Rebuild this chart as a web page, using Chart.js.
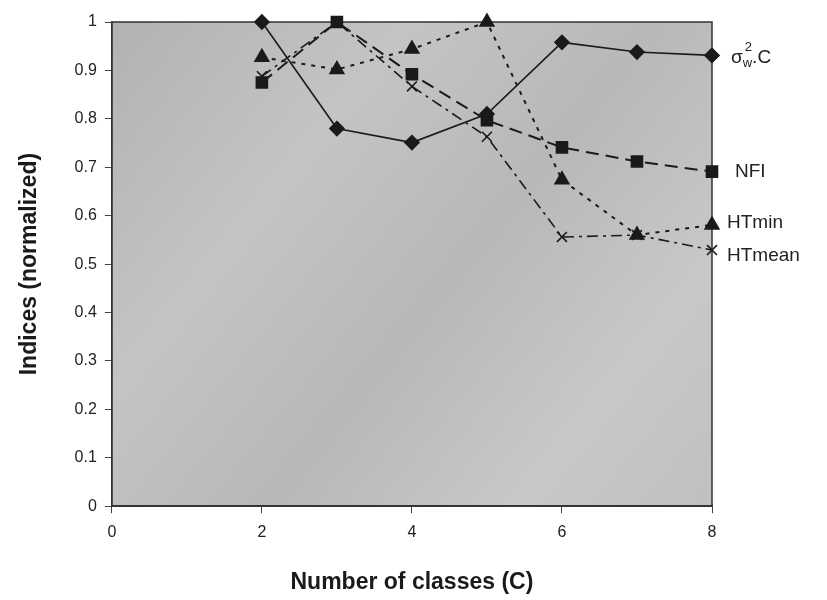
<!DOCTYPE html>
<html>
<head>
<meta charset="utf-8">
<script src="https://cdn.jsdelivr.net/npm/chart.js@4.4.1/dist/chart.umd.min.js"></script>
<style>
  html, body { margin: 0; padding: 0; background: #fff; }
  #wrap { width: 827px; height: 600px; }
</style>
</head>
<body>
<div id="wrap"><canvas id="grafico"></canvas></div>
<script>
const classes = [2, 3, 4, 5, 6, 7, 8];
const sigmaC = [1.0, 0.78, 0.751, 0.81, 0.958, 0.938, 0.931];
const nfi = [0.875, 1.0, 0.892, 0.797, 0.741, 0.712, 0.691];
const htMin = [0.927, 0.902, 0.944, 1.0, 0.674, 0.56, 0.581];
const htMean = [0.888, 1.0, 0.867, 0.763, 0.556, 0.56, 0.529];
const xTicks = [0, 2, 4, 6, 8];
const serieNames = ['σw².C', 'NFI', 'HTmin', 'HTmean'];

function pontos(valores) {
  return classes.map((c, i) => ({ x: c, y: valores[i] }));
}

const fonte = '"Liberation Sans", Arial, sans-serif';

const fundoPlugin = {
  id: 'fundo',
  beforeDraw(chart) {
    const { ctx, chartArea: a } = chart;
    const g = ctx.createLinearGradient(a.left, a.top, a.right, a.bottom);
    g.addColorStop(0, '#b2b2b2');
    g.addColorStop(0.3, '#c4c4c4');
    g.addColorStop(0.55, '#b8b8b8');
    g.addColorStop(0.8, '#c8c8c8');
    g.addColorStop(1, '#c0c0c0');
    ctx.save();
    ctx.fillStyle = g;
    ctx.fillRect(a.left, a.top, a.right - a.left, a.bottom - a.top);
    ctx.strokeStyle = '#333';
    ctx.lineWidth = 1.5;
    ctx.strokeRect(a.left, a.top, a.right - a.left, a.bottom - a.top);
    ctx.restore();
  },
  afterDatasetsDraw(chart) {
    const { ctx, chartArea: a } = chart;
    ctx.save();
    // rótulos das séries à direita
    const y = chart.scales.y;
    ctx.fillStyle = '#222';
    ctx.textBaseline = 'middle';
    const ult = [sigmaC, nfi, htMin, htMean].map(s => s.at(-1));
    const offX = [19, 23, 15, 15];
    const offY = [2, 0, -2, 6];
    ult.forEach((v, i) => {
      const py = y.getPixelForValue(v) + offY[i];
      const px = a.right + offX[i];
      ctx.font = '19px ' + fonte;
      if (i === 0) {
        ctx.fillText('σ', px, py);
        const w1 = ctx.measureText('σ').width;
        ctx.font = '13px ' + fonte;
        ctx.fillText('w', px + w1, py + 6);
        const w2 = ctx.measureText('w').width;
        ctx.fillText('2', px + w1 + 2, py - 10);
        ctx.font = '19px ' + fonte;
        ctx.fillText('.C', px + w1 + w2, py);
      } else {
        ctx.fillText(serieNames[i], px, py);
      }
    });
    ctx.restore();
  }
};

new Chart(document.getElementById('grafico'), {
  type: 'line',
  data: {
    datasets: [
      {
        label: serieNames[0], data: pontos(sigmaC), clip: false,
        borderColor: '#1a1a1a', backgroundColor: '#1a1a1a', borderWidth: 1.6,
        pointStyle: 'rectRot', pointRadius: 7
      },
      {
        label: serieNames[1], data: pontos(nfi), clip: false,
        borderColor: '#1a1a1a', backgroundColor: '#1a1a1a', borderWidth: 2,
        borderDash: [13, 7], pointStyle: 'rect', pointRadius: 7.5
      },
      {
        label: serieNames[2], data: pontos(htMin), clip: false,
        borderColor: '#1a1a1a', backgroundColor: '#1a1a1a', borderWidth: 2,
        borderDash: [4, 6], pointStyle: 'triangle', pointRadius: 7.5
      },
      {
        label: serieNames[3], data: pontos(htMean), clip: false,
        borderColor: '#1a1a1a', backgroundColor: '#1a1a1a', borderWidth: 1.6,
        borderDash: [11, 5, 3, 5], pointStyle: 'crossRot', pointRadius: 7, pointBorderWidth: 1.6
      }
    ]
  },
  options: {
    responsive: true,
    maintainAspectRatio: false,
    animation: false,
    layout: { padding: { left: 16, right: 115, top: 22, bottom: 4 } },
    plugins: {
      legend: { display: false },
      tooltip: { enabled: false }
    },
    scales: {
      x: {
        type: 'linear', min: 0, max: 8,
        afterBuildTicks: s => { s.ticks = xTicks.map(v => ({ value: v })); },
        grid: { drawOnChartArea: false, drawTicks: true, tickLength: 7, color: '#444' },
        border: { display: true, color: '#333', width: 1.5 },
        ticks: { color: '#222', padding: 10, font: { family: fonte, size: 16 } },
        title: {
          display: true, text: 'Number of classes (C)', color: '#1a1a1a',
          padding: { top: 16, bottom: 0 },
          font: { family: fonte, size: 23, weight: 'bold' }
        }
      },
      y: {
        type: 'linear', min: 0, max: 1,
        ticks: {
          stepSize: 0.1, color: '#222', padding: 8,
          font: { family: fonte, size: 16 },
          callback: v => String(+v.toFixed(1))
        },
        grid: { drawOnChartArea: false, drawTicks: true, tickLength: 7, color: '#444' },
        border: { display: true, color: '#333', width: 1.5 },
        title: {
          display: true, text: 'Indices (normalized)', color: '#1a1a1a',
          padding: { top: 0, bottom: 23 },
          font: { family: fonte, size: 23, weight: 'bold' }
        }
      }
    }
  },
  plugins: [fundoPlugin]
});
</script>
</body>
</html>
